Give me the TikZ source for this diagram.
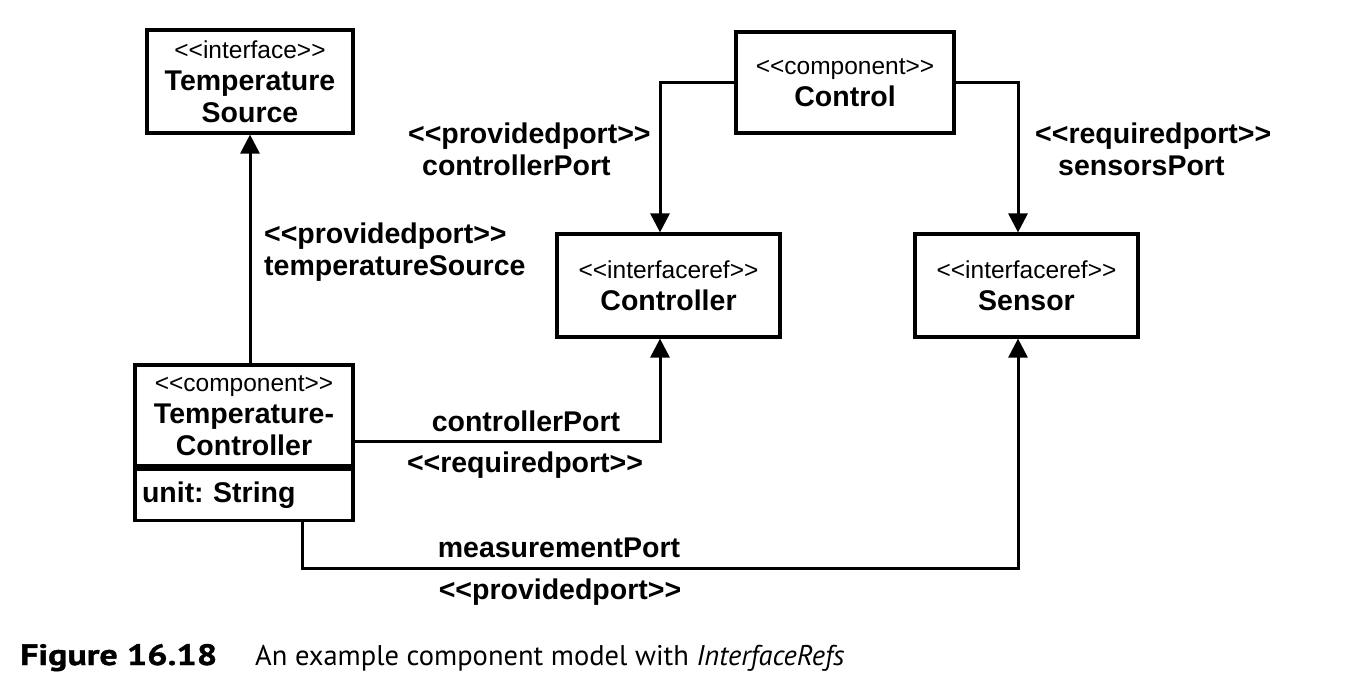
\documentclass[tikz,border=0pt]{standalone}
\usepackage{fontspec}
\setmainfont{Liberation Sans}[Ligatures=TeXOff]
\newfontfamily\capfont{PT Sans}
\newfontfamily\capbold{PT Sans Bold}[FakeStretch=1.22, FakeBold=1.2]
\usetikzlibrary{arrows.meta,calc}
\frenchspacing
\newcommand{\stereo}[1]{{\fontsize{24.5}{29}\mdseries\selectfont #1}}
\tikzset{
  box/.style={draw, line width=3.2pt, inner sep=0pt, align=center,
    font=\fontsize{28.5}{32}\selectfont\bfseries},
  conn/.style={line width=3pt, -{Triangle[length=19pt,width=19pt]}},
  lbl/.style={inner sep=0pt, font=\fontsize{28.5}{32}\selectfont\bfseries},
}
\begin{document}
\begin{tikzpicture}[x=1pt,y=-1pt]
\useasboundingbox (0,0) rectangle (1346,688);
% boxes
\node[box, minimum width=206pt, minimum height=103pt] (ts) at (250,81.5)
  {\stereo{<<interface>>}\\Temperature\\Source};
\node[box, minimum width=218pt, minimum height=101pt] (control) at (845,82.5)
  {\stereo{<<component>>}\\Control};
\node[box, minimum width=223pt, minimum height=103pt] (ctrl) at (668.5,285.5)
  {\stereo{<<interfaceref>>}\\Controller};
\node[box, minimum width=223pt, minimum height=103pt] (sensor) at (1026.5,285.5)
  {\stereo{<<interfaceref>>}\\Sensor};
\node[box, minimum width=218pt, minimum height=101pt] (tc) at (244,415.5)
  {\stereo{<<component>>}\\Temperature-\\Controller};
\node[box, minimum width=218pt, minimum height=51pt, text width=204pt, align=left,
  anchor=north] (tcattr) at (tc.south) {unit: String};
% connectors
\draw[conn] (tc.north -| ts.south) -- (ts.south);
\coordinate (ctrltop) at ([xshift=-8.5pt]ctrl.north);
\coordinate (senstop) at ([xshift=-8.5pt]sensor.north);
\coordinate (ctrlbot) at ([xshift=-8.5pt]ctrl.south);
\coordinate (sensbot) at ([xshift=-8.5pt]sensor.south);
\draw[conn] (control.west) -| (ctrltop);
\draw[conn] (control.east) -| (senstop);
\draw[conn] ([yshift=-25.5pt]tc.east) -| (ctrlbot);
\coordinate (tcb) at ([xshift=58pt]tcattr.south);
\coordinate (low) at (0,568);
\draw[conn] (tcb) -- (tcb |- low) -- (sensbot |- low) -- (sensbot);
% labels
\node[lbl, anchor=west, align=left] (lts) at (264,252)
  {<<providedport>>\\temperatureSource};
\node[lbl, anchor=west, align=left] (lcp) at (408,149)
  {<<providedport>>\\\hspace*{14pt}controllerPort};
\node[lbl, anchor=west, align=left] (lsp) at (1035,149)
  {<<requiredport>>\\\hspace*{23pt}sensorsPort};
\node[lbl] (lcp2) at (526,421) {controllerPort};
\node[lbl] (lrp) at (525,465) {<<requiredport>>};
\node[lbl] (lmp) at (559,548) {measurementPort};
\node[lbl] (lpp) at (560,592) {<<providedport>>};
% caption
\node[anchor=base west, inner sep=0pt, font=\capbold\fontsize{29.5}{34}\selectfont] (capnum) at (20,665) {Figure 16.18};
\node[anchor=base west, inner sep=0pt, font=\capfont\fontsize{28.5}{34}\selectfont] (captxt) at (255,665) {An example component model with \textit{InterfaceRefs}};
\end{tikzpicture}
\end{document}
